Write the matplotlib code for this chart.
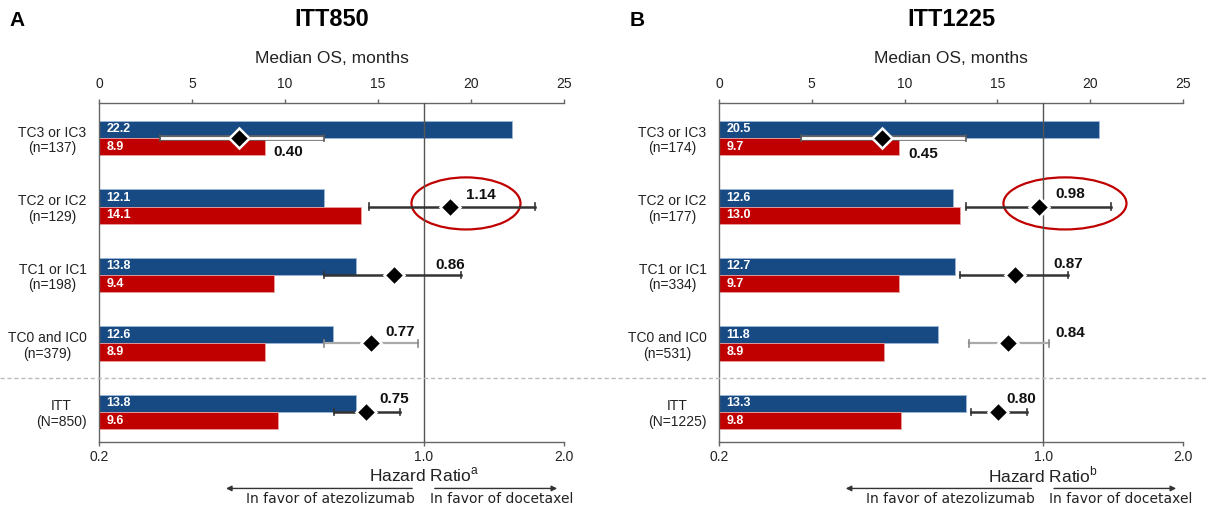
import numpy as np
import matplotlib
matplotlib.use('Agg')
from matplotlib import pyplot as plt
from matplotlib import transforms
from matplotlib.lines import Line2D
from matplotlib.patches import Ellipse
from matplotlib.ticker import FixedLocator, FixedFormatter, NullLocator

plt.rcParams['font.family'] = ['Liberation Sans', 'DejaVu Sans']

# subgroups, top to bottom
subgroups = ['TC3 or IC3', 'TC2 or IC2', 'TC1 or IC1', 'TC0 and IC0', 'ITT']

# ITT850
counts_850 = ['n=137', 'n=129', 'n=198', 'n=379', 'N=850']
os_atezo_850 = [22.2, 12.1, 13.8, 12.6, 13.8]
os_doce_850 = [8.9, 14.1, 9.4, 8.9, 9.6]
hr_850 = [0.40, 1.14, 0.86, 0.77, 0.75]
ci_lo_850 = [0.27, 0.76, 0.61, 0.61, 0.64]
ci_hi_850 = [0.61, 1.73, 1.20, 0.97, 0.89]

# ITT1225
counts_1225 = ['n=174', 'n=177', 'n=334', 'n=531', 'N=1225']
os_atezo_1225 = [20.5, 12.6, 12.7, 11.8, 13.3]
os_doce_1225 = [9.7, 13.0, 9.7, 8.9, 9.8]
hr_1225 = [0.45, 0.98, 0.87, 0.84, 0.80]
ci_lo_1225 = [0.30, 0.68, 0.66, 0.69, 0.70]
ci_hi_1225 = [0.68, 1.40, 1.13, 1.03, 0.92]

BLUE = '#174A82'
RED = '#C00000'
AXIS_GREY = '#666666'
TEXT = '#222222'

# hand placed label offsets (pixels from the diamond) and CI line styles
offsets_850 = [(49, -14), (30, 12), (57, 10), (29, 11), (28, 13)]
offsets_1225 = [(41, -16), (31, 13), (53, 11), (62, 10), (23, 13)]
ci_styles = ['hollow', 'dark', 'dark', 'light', 'dark']


def draw_panel(fig, rect, letter, title, counts, atezo, doce, hr, ci_lo, ci_hi,
               sup, offsets, ellipse_x, ellipse_w):
    ax = fig.add_axes(rect)
    hx = ax.twiny()
    ypos = np.arange(len(subgroups))[::-1]
    h = 0.255

    ax.barh(ypos + h / 2, atezo, height=h, color=BLUE, edgecolor='#9DB7DA', linewidth=0.6)
    ax.barh(ypos - h / 2, doce, height=h, color=RED, edgecolor='#E8A0A0', linewidth=0.6)
    for y, a, d in zip(ypos, atezo, doce):
        ax.text(0.4, y + h / 2, '%.1f' % a, color='white', fontsize=9,
                fontweight='bold', va='center')
        ax.text(0.4, y - h / 2, '%.1f' % d, color='white', fontsize=9,
                fontweight='bold', va='center')

    ax.set_xlim(0, 25)
    ax.set_ylim(-0.438, 4.511)
    ax.xaxis.set_ticks_position('top')
    ax.xaxis.set_label_position('top')
    ax.set_xticks(range(0, 26, 5))
    ax.set_xlabel('Median OS, months', fontsize=12.5, labelpad=10, color=TEXT)
    ax.tick_params(axis='x', direction='out', length=3, width=1, colors=AXIS_GREY,
                   labelcolor=TEXT, labelsize=10, pad=6)
    ax.set_yticks(ypos)
    ax.set_yticklabels(['%s\n(%s)' % (g, n) for g, n in zip(subgroups, counts)],
                       multialignment='center', linespacing=1.15)
    ax.tick_params(axis='y', length=0, labelsize=10, pad=9, labelcolor=TEXT)
    for s in ['top', 'left', 'bottom']:
        ax.spines[s].set_color(AXIS_GREY)
        ax.spines[s].set_linewidth(1)
    ax.spines['right'].set_visible(False)

    ell = Ellipse((ellipse_x, 3.045), ellipse_w, 0.76, fill=False, edgecolor=RED,
                  linewidth=1.6, clip_on=False, zorder=6)
    ax.add_patch(ell)

    # hazard ratio axis, log scale on the bottom
    hx.set_xscale('log')
    hx.set_xlim(0.2, 2.0)
    hx.xaxis.set_ticks_position('bottom')
    hx.xaxis.set_label_position('bottom')
    hx.xaxis.set_major_locator(FixedLocator([0.2, 1.0, 2.0]))
    hx.xaxis.set_major_formatter(FixedFormatter(['0.2', '1.0', '2.0']))
    hx.xaxis.set_minor_locator(NullLocator())
    hx.tick_params(axis='x', direction='out', length=3, width=1, colors=AXIS_GREY,
                   labelcolor=TEXT, labelsize=10, pad=3)
    for s in hx.spines.values():
        s.set_visible(False)
    hx.axvline(1.0, color='#555555', linewidth=1, zorder=1)

    for i, (y, m, lo, hi) in enumerate(zip(ypos, hr, ci_lo, ci_hi)):
        style = ci_styles[i]
        if style == 'hollow':
            hx.plot([lo, hi], [y, y], color='#666666', linewidth=4, solid_capstyle='butt', zorder=3)
            hx.plot([lo, hi], [y, y], color='white', linewidth=2, solid_capstyle='butt', zorder=3)
            cap = '#555555'
        elif style == 'light':
            hx.plot([lo, hi], [y, y], color='#AAAAAA', linewidth=1.6, zorder=3)
            cap = '#888888'
        else:
            hx.plot([lo, hi], [y, y], color='#333333', linewidth=1.8, zorder=3)
            cap = '#333333'
        for x in (lo, hi):
            hx.plot([x, x], [y - 0.045, y + 0.045], color=cap, linewidth=1.2, zorder=3)
        hx.plot(m, y, marker='D', markersize=10, markerfacecolor='black',
                markeredgecolor='white', markeredgewidth=1.8, zorder=5)
        dx, dy = offsets[i]
        hx.annotate('%.2f' % m, xy=(m, y), xytext=(dx, dy), textcoords='offset pixels',
                    ha='center', va='center', fontsize=11, fontweight='bold', color='#111111')

    trans = transforms.blended_transform_factory(hx.transData, ax.transAxes)
    hx.text(1.0, -0.097, 'Hazard Ratio$^\\mathregular{%s}$' % sup, transform=trans,
            ha='center', va='center', fontsize=12.5, color=TEXT)
    arrow = dict(arrowstyle='-|>', color='#333333', linewidth=1, mutation_scale=8)
    hx.annotate('', xy=(0.37, -0.137), xytext=(0.956, -0.137), xycoords=trans,
                textcoords=trans, arrowprops=arrow, annotation_clip=False)
    hx.annotate('', xy=(1.96, -0.137), xytext=(1.04, -0.137), xycoords=trans,
                textcoords=trans, arrowprops=arrow, annotation_clip=False)
    hx.text(0.63, -0.169, 'In favor of atezolizumab', transform=trans, ha='center',
            va='center', fontsize=10, color=TEXT, family=['DejaVu Sans'])
    hx.text(1.47, -0.169, 'In favor of docetaxel', transform=trans, ha='center',
            va='center', fontsize=10, color=TEXT, family=['DejaVu Sans'])

    pos = ax.get_position()
    fig.text(pos.x0 + pos.width / 2, 1 - 19 / 508, title, ha='center', va='center',
             fontsize=17, fontweight='bold')
    fig.text(pos.x0 - 82 / 1206, 1 - 20 / 508, letter, ha='center', va='center',
             fontsize=15, fontweight='bold')
    return ax


fig = plt.figure(figsize=(12.06, 5.08), dpi=100)
ax_a = draw_panel(fig, [99 / 1206, 1 - 442 / 508, 465 / 1206, 339 / 508], 'A', 'ITT850',
                  counts_850, os_atezo_850, os_doce_850, hr_850, ci_lo_850, ci_hi_850,
                  'a', offsets_850, 19.73, 5.86)
ax_b = draw_panel(fig, [719 / 1206, 1 - 442 / 508, 464 / 1206, 339 / 508], 'B', 'ITT1225',
                  counts_1225, os_atezo_1225, os_doce_1225, hr_1225, ci_lo_1225, ci_hi_1225,
                  'b', offsets_1225, 18.64, 6.63)

# dashed separator between subgroups and ITT, across the whole figure
sep = transforms.blended_transform_factory(fig.transFigure, ax_a.transData)
fig.add_artist(Line2D([0, 1], [0.5, 0.5], transform=sep, color='#BBBBBB',
                      linewidth=1, linestyle=(0, (3, 2))))

fig.savefig('out.png', dpi=100)
